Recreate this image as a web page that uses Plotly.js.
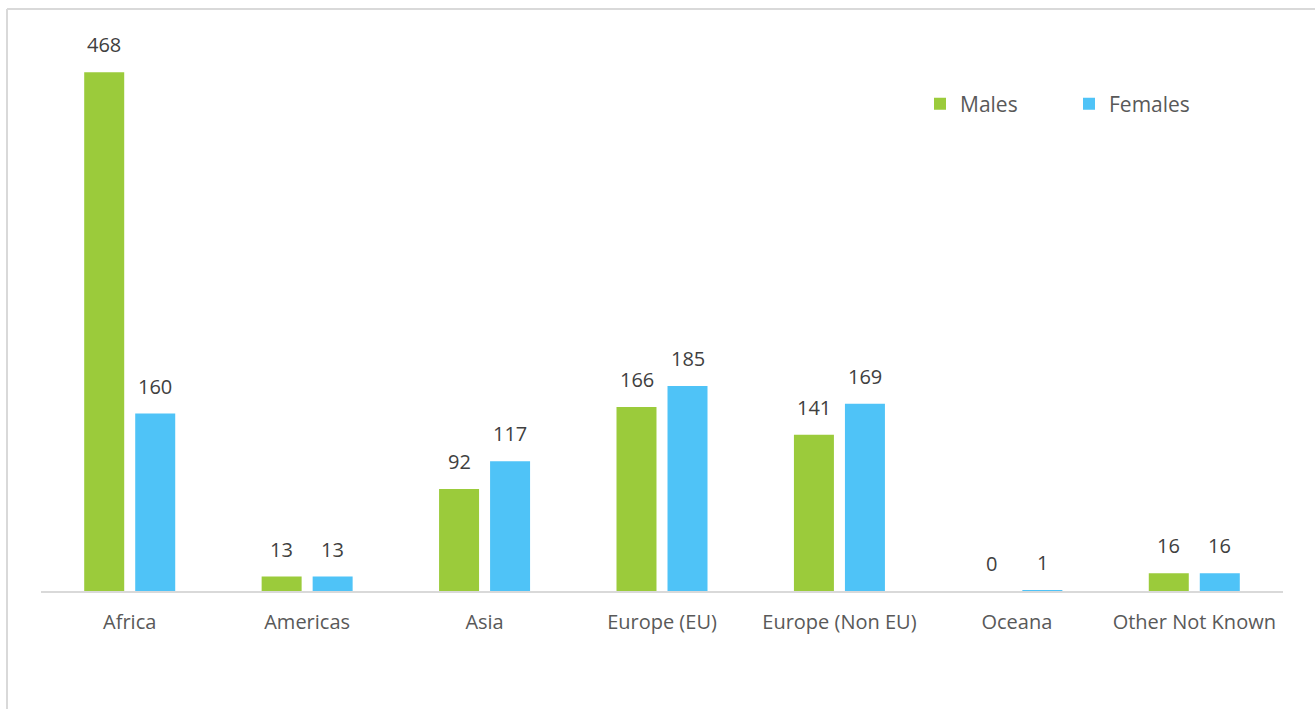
<!DOCTYPE html>
<html>
<head>
<meta charset="utf-8">
<script src="https://cdn.plot.ly/plotly-3.0.1.min.js"></script>
<style>
html,body{margin:0;padding:0;background:#fff;}
#chart{width:1315px;height:709px;}
</style>
</head>
<body>
<div id="chart"></div>
<script>
const categories = ["Africa", "Americas", "Asia", "Europe (EU)", "Europe (Non EU)", "Oceana", "Other Not Known"];
const males = [468, 13, 92, 166, 141, 0, 16];
const females = [160, 13, 117, 185, 169, 1, 16];

const GREEN = "#9BCB3B";
const BLUE = "#4FC3F7";
const FONT = "Open Sans, Noto Sans, sans-serif";

const traces = [
  {type: "bar", name: "Males", x: categories, y: males, marker: {color: GREEN}, hoverinfo: "x+y"},
  {type: "bar", name: "Females", x: categories, y: females, marker: {color: BLUE}, hoverinfo: "x+y"}
];

const annotations = [];
categories.forEach((c, i) => {
  annotations.push({x: c, y: males[i], xref: "x", yref: "y", text: String(males[i]), showarrow: false,
    xshift: -25.5, yshift: 12, yanchor: "bottom", font: {family: FONT, size: 20, color: "#404040"}});
  annotations.push({x: c, y: females[i], xref: "x", yref: "y", text: String(females[i]), showarrow: false,
    xshift: 25.5, yshift: 12, yanchor: "bottom", font: {family: FONT, size: 20, color: "#404040"}});
});

const L = 41, R = 1283, T = 30, B = 591;
const px = v => (v - L) / (R - L);
const py = v => (B - v) / (B - T);

const layout = {
  width: 1315, height: 709,
  margin: {l: L, r: 1315 - R, t: T, b: 709 - B, pad: 0},
  paper_bgcolor: "#fff", plot_bgcolor: "#fff",
  barmode: "group", bargap: 0.425, bargroupgap: 0.216,
  font: {family: FONT, size: 20, color: "#595959"},
  xaxis: {
    showline: true, linecolor: "#d9d9d9", linewidth: 1.5, ticks: "", showgrid: false, zeroline: false,
    tickfont: {family: FONT, size: 20, color: "#595959"}, ticklabelstandoff: 12
  },
  yaxis: {range: [0, 506], showgrid: false, zeroline: false, showticklabels: false, showline: false, ticks: "", fixedrange: true},
  legend: {
    orientation: "h", x: px(920), y: py(104), xanchor: "left", yanchor: "middle",
    font: {family: FONT, size: 21, color: "#595959"}, entrywidth: 104, entrywidthmode: "pixels",
    bgcolor: "rgba(0,0,0,0)"
  },
  showlegend: true,
  annotations: annotations,
  shapes: [
    {type: "line", xref: "paper", yref: "paper", x0: px(7), x1: px(7), y0: py(9), y1: py(720), line: {color: "#d9d9d9", width: 2}},
    {type: "line", xref: "paper", yref: "paper", x0: px(7), x1: px(1330), y0: py(9), y1: py(9), line: {color: "#d9d9d9", width: 2}}
  ]
};

Plotly.newPlot("chart", traces, layout, {displayModeBar: false, staticPlot: true});
</script>
</body>
</html>
